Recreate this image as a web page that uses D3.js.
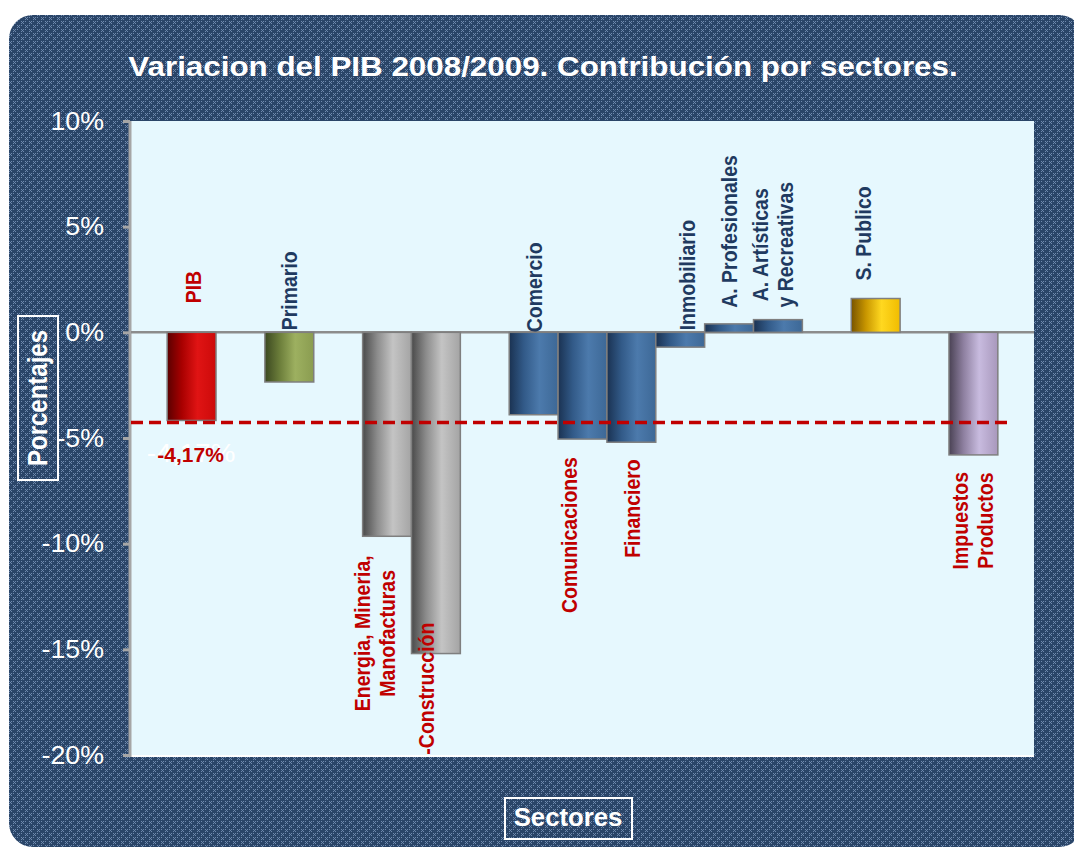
<!DOCTYPE html>
<html>
<head>
<meta charset="utf-8">
<script src="https://cdn.jsdelivr.net/npm/d3@7"></script>
<style>
  body { margin: 0; background: #fff; }
  text { font-family: "Liberation Sans", Arial, sans-serif; }
</style>
</head>
<body>
<script>
// sectors, in chart order ("" = empty slot between groups)
const categories = ["PIB", "", "Primario", "", "Energia, Mineria, Manofacturas", "Construcción", "",
  "Comercio", "Comunicaciones", "Financiero", "Inmobiliario", "A. Profesionales",
  "A. Artísticas y Recreativas", "", "S. Publico", "", "Impuestos Productos"];
const values = [-4.17, null, -2.35, null, -9.65, -15.2, null,
  -3.9, -5.05, -5.2, -0.7, 0.4, 0.6, null, 1.6, null, -5.8];
const groups = ["pib", "", "primario", "", "industria", "industria", "",
  "servicios", "servicios", "servicios", "servicios", "servicios", "servicios", "", "publico", "", "impuestos"];
const labelLines = [["PIB"], [], ["Primario"], [], ["Energia, Mineria,", "Manofacturas"], ["-Construcción"], [],
  ["Comercio"], ["Comunicaciones"], ["Financiero"], ["Inmobiliario"], ["A. Profesionales"],
  ["A. Artísticas", "y Recreativas"], [], ["S. Publico"], [], ["Impuestos", "Productos"]];
const yTicks = [10, 5, 0, -5, -10, -15, -20];
const pibLine = -4.27;
const pibLabel = "-4,17%";

const W = 1074, H = 848;
const red = "#c00000", navy = "#1f3a60";
const stretch = 1.12; // the original image is a little wider than tall

// label placement (side, reference edge, gap in px, x nudge)
const labelLayout = {
  "PIB": { side: "up", ref: "zero", gap: 29, dx: 2, color: red },
  "Primario": { side: "up", ref: "zero", gap: 2, dx: 0, color: navy },
  "Energia, Mineria, Manofacturas": { side: "down", ref: "bar", gap: 19, dx: -12, color: red },
  "Construcción": { side: "down", ref: "bar", gap: -31, dx: -10, color: red },
  "Comercio": { side: "up", ref: "zero", gap: 0, dx: 1, color: navy },
  "Comunicaciones": { side: "down", ref: "bar", gap: 18, dx: -13, color: red },
  "Financiero": { side: "down", ref: "bar", gap: 17, dx: 1, color: red },
  "Inmobiliario": { side: "up", ref: "zero", gap: 2, dx: 7, color: navy },
  "A. Profesionales": { side: "up", ref: "bar", gap: 16, dx: 0, color: navy },
  "A. Artísticas y Recreativas": { side: "up", ref: "bar", gap: 12, dx: -5, color: navy },
  "S. Publico": { side: "up", ref: "bar", gap: 18, dx: -12, color: navy },
  "Impuestos Productos": { side: "down", ref: "bar", gap: 17, dx: -1, color: red }
};

const gradStops = {
  pib: ["#5a0000", "#a80000", "#e01414", "#cc0a0a"],
  primario: ["#3b4820", "#6b7d3a", "#9db060", "#8a9c50"],
  industria: ["#4a4a4a", "#8c8c8c", "#c4c4c4", "#a4a4a4"],
  servicios: ["#1a3252", "#325a88", "#4c7aac", "#3d6896"],
  publico: ["#785400", "#c89600", "#ffd820", "#f0bc00"],
  impuestos: ["#4a4254", "#8e80a0", "#c8bbdf", "#a898bc"]
};

const svg = d3.select("body").append("svg")
  .attr("width", W)
  .attr("height", H);

const defs = svg.append("defs");

// dotted navy texture
const pat = defs.append("pattern")
  .attr("id", "weave")
  .attr("width", 8).attr("height", 8)
  .attr("patternUnits", "userSpaceOnUse");
pat.append("rect").attr("width", 8).attr("height", 8).attr("fill", "#2a4568");
[[1, 1], [3, 1], [2, 2], [1, 3], [3, 3], [5, 5], [7, 5], [6, 6], [5, 7], [7, 7], [5, 1], [1, 5]].forEach(p => {
  pat.append("rect").attr("x", p[0]).attr("y", p[1]).attr("width", 1).attr("height", 1)
    .attr("fill", "#7b96bb").attr("opacity", 0.85);
});

Object.keys(gradStops).forEach(k => {
  const g = defs.append("linearGradient").attr("id", "g-" + k)
    .attr("x1", 0).attr("x2", 1).attr("y1", 0).attr("y2", 0);
  [0, 0.3, 0.62, 1].forEach((o, i) => g.append("stop").attr("offset", o).attr("stop-color", gradStops[k][i]));
});

svg.append("rect")
  .attr("x", 9).attr("y", 15)
  .attr("width", 1074).attr("height", 832)
  .attr("rx", 24)
  .attr("fill", "url(#weave)");

svg.append("text")
  .attr("transform", `translate(543,76) scale(${stretch},1)`)
  .attr("text-anchor", "middle")
  .attr("fill", "#fff")
  .attr("font-weight", "bold")
  .attr("font-size", 28)
  .text("Variacion del PIB 2008/2009. Contribución por sectores.");

const plot = { left: 131, right: 1034, top: 121, bottom: 755 };

const x = d3.scaleBand()
  .domain(d3.range(categories.length))
  .range([plot.left, plot.right])
  .paddingInner(0)
  .paddingOuter(0.74);

const y = d3.scaleLinear()
  .domain([-20, 10])
  .range([plot.bottom, plot.top]);

svg.append("rect")
  .attr("x", plot.left).attr("y", plot.top)
  .attr("width", plot.right - plot.left).attr("height", plot.bottom - plot.top)
  .attr("fill", "#e6f8fe");

svg.append("line")
  .attr("x1", plot.left).attr("x2", plot.right)
  .attr("y1", plot.bottom + 1).attr("y2", plot.bottom + 1)
  .attr("stroke", "#fff").attr("stroke-width", 2);

// y axis
const yAxis = svg.append("g")
  .attr("transform", `translate(${plot.left - 1},0)`)
  .call(d3.axisLeft(y).tickValues(yTicks).tickSize(7).tickPadding(0).tickFormat(d => d + "%"));
yAxis.select(".domain").attr("stroke", "#a6a6a6").attr("stroke-width", 3)
  .attr("d", `M0,${plot.top}V${plot.bottom + 2}`);
yAxis.selectAll(".tick line").attr("stroke", "#a6a6a6").attr("stroke-width", 3);
yAxis.selectAll(".tick text")
  .attr("x", null)
  .attr("transform", `translate(-26,0) scale(1.07,1)`)
  .attr("fill", "#fff")
  .attr("font-size", 25)
  .attr("font-family", "'Liberation Sans', Arial, sans-serif");

// zero line
svg.append("line")
  .attr("x1", plot.left).attr("x2", plot.right)
  .attr("y1", y(0)).attr("y2", y(0))
  .attr("stroke", "#8c8c8c").attr("stroke-width", 2.5);

const data = categories.map((c, i) => ({ i, name: c, value: values[i], group: groups[i], lines: labelLines[i] }))
  .filter(d => d.value !== null);

svg.append("g")
  .selectAll("rect")
  .data(data)
  .enter().append("rect")
    .attr("x", d => x(d.i))
    .attr("width", x.bandwidth())
    .attr("y", d => y(Math.max(d.value, 0)))
    .attr("height", d => Math.abs(y(d.value) - y(0)))
    .attr("fill", d => `url(#g-${d.group})`)
    .attr("stroke", "#7f7f7f")
    .attr("stroke-width", 1.5);

// reference line at PIB level
svg.append("line")
  .attr("x1", plot.left).attr("x2", 1007)
  .attr("y1", y(pibLine)).attr("y2", y(pibLine))
  .attr("stroke", red).attr("stroke-width", 3.5)
  .attr("stroke-dasharray", "12,6");

// sector labels, rotated
const lineH = 25;
data.forEach(d => {
  const lay = labelLayout[d.name];
  const g = svg.append("g");
  const texts = d.lines.map(l => g.append("text")
    .attr("text-anchor", "middle")
    .attr("dy", "0.35em")
    .attr("font-size", 19.5)
    .attr("font-weight", "bold")
    .attr("fill", lay.color)
    .text(l));
  const maxLen = d3.max(texts, t => t.node().getComputedTextLength());
  const edge = lay.ref === "zero" ? y(0) : y(d.value);
  const cy = lay.side === "up" ? edge - lay.gap - maxLen / 2 : edge + lay.gap + maxLen / 2;
  const cx = x(d.i) + x.bandwidth() / 2 + lay.dx;
  const n = texts.length;
  texts.forEach((t, k) => {
    t.attr("transform", `translate(${cx + (k - (n - 1) / 2) * lineH},${cy}) rotate(-90) scale(1,${stretch})`);
  });
});

// PIB value label (white copy behind the red one)
const pibX = x(0) + x.bandwidth() / 2;
svg.append("text")
  .attr("transform", `translate(${pibX - 0.5},462) scale(${stretch},1)`)
  .attr("text-anchor", "middle")
  .attr("fill", "#fff")
  .attr("font-size", 25)
  .text(pibLabel);
svg.append("text")
  .attr("transform", `translate(${pibX - 1},462) scale(1.05,1)`)
  .attr("text-anchor", "middle")
  .attr("fill", red)
  .attr("font-size", 20)
  .attr("font-weight", "bold")
  .text(pibLabel);

// axis titles in boxes
svg.append("rect")
  .attr("x", 18).attr("y", 316).attr("width", 40).attr("height", 164)
  .attr("fill", "none").attr("stroke", "#fff").attr("stroke-width", 2);
svg.append("text")
  .attr("transform", `translate(38,398) rotate(-90) scale(1,${stretch})`)
  .attr("text-anchor", "middle")
  .attr("dy", "0.35em")
  .attr("fill", "#fff")
  .attr("font-weight", "bold")
  .attr("font-size", 24)
  .text("Porcentajes");

svg.append("rect")
  .attr("x", 505).attr("y", 798).attr("width", 127).attr("height", 41)
  .attr("fill", "none").attr("stroke", "#fff").attr("stroke-width", 2);
svg.append("text")
  .attr("transform", "translate(568,826) scale(1.03,1)")
  .attr("text-anchor", "middle")
  .attr("fill", "#fff")
  .attr("font-weight", "bold")
  .attr("font-size", 25)
  .text("Sectores");
</script>
</body>
</html>
